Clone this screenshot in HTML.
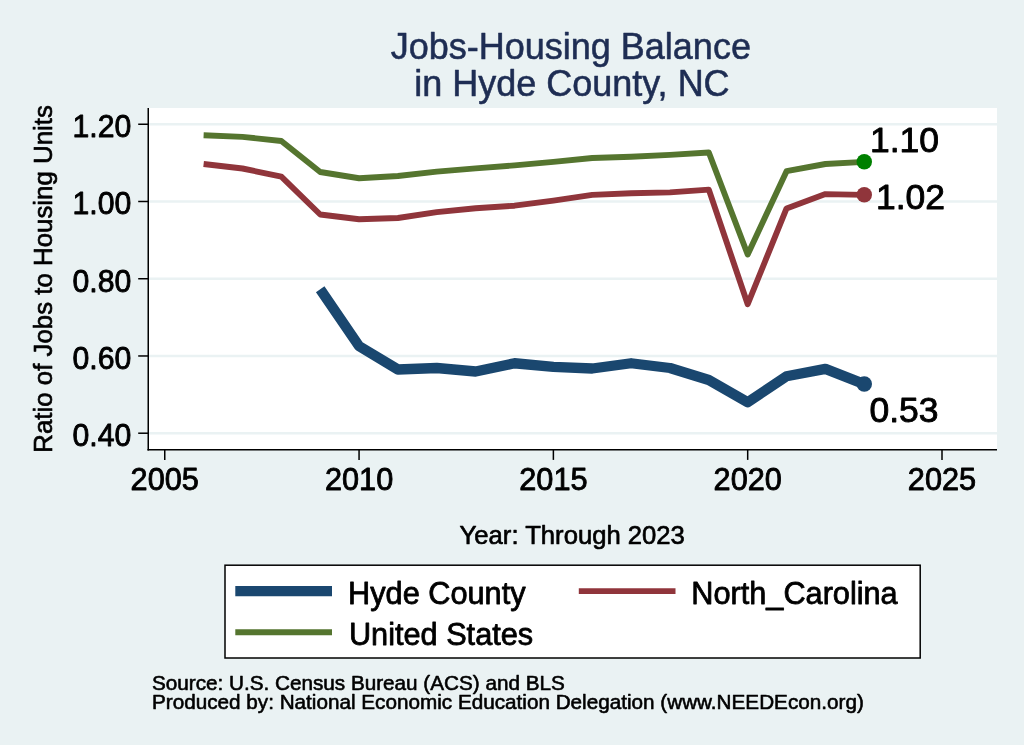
<!DOCTYPE html>
<html><head><meta charset="utf-8"><title>Jobs-Housing Balance in Hyde County, NC</title>
<style>
html,body{margin:0;padding:0;background:#EAF2F3;}
body{width:1024px;height:745px;overflow:hidden;}
svg{display:block;will-change:transform;}
text{font-family:"Liberation Sans",Arial,Helvetica,sans-serif;fill:#000;stroke:#000;stroke-linejoin:round;}
text.ttl{fill:#1E2D53;stroke:#1E2D53;}
</style></head><body>
<svg width="1024" height="745" viewBox="0 0 1024 745">
<rect x="0" y="0" width="1024" height="745" fill="#EAF2F3"/>
<rect x="148" y="108" width="849" height="341.6" fill="#fff"/>
<!-- grid -->
<line x1="148.8" x2="997" y1="124.25" y2="124.25" stroke="#EAF2F3" stroke-width="2.4"/>
<line x1="148.8" x2="997" y1="201.49" y2="201.49" stroke="#EAF2F3" stroke-width="2.4"/>
<line x1="148.8" x2="997" y1="278.73" y2="278.73" stroke="#EAF2F3" stroke-width="2.4"/>
<line x1="148.8" x2="997" y1="355.97" y2="355.97" stroke="#EAF2F3" stroke-width="2.4"/>
<line x1="148.8" x2="997" y1="433.21" y2="433.21" stroke="#EAF2F3" stroke-width="2.4"/>
<!-- series -->
<polyline points="320.20,289.25 359.06,346.10 397.92,369.50 436.79,368.00 475.65,371.50 514.51,363.25 553.38,366.90 592.24,368.50 631.10,363.25 669.96,368.00 708.82,380.00 747.69,402.20 786.55,376.30 825.41,368.90 864.27,384.10" fill="none" stroke="#1A476F" stroke-width="10.3" stroke-linejoin="round"/>
<polyline points="203.61,164.00 242.47,168.50 281.34,176.70 320.20,214.50 359.06,219.25 397.92,218.00 436.79,212.10 475.65,208.30 514.51,205.70 553.38,200.60 592.24,194.90 631.10,193.30 669.96,192.40 708.82,189.60 747.69,304.25 786.55,208.40 825.41,194.10 864.27,194.85" fill="none" stroke="#90353B" stroke-width="5.9" stroke-linejoin="round"/>
<polyline points="203.61,135.25 242.47,136.90 281.34,141.00 320.20,172.00 359.06,178.25 397.92,176.00 436.79,171.65 475.65,168.40 514.51,165.40 553.38,161.90 592.24,158.05 631.10,156.70 669.96,154.90 708.82,152.50 747.69,254.50 786.55,171.20 825.41,164.00 864.27,161.85" fill="none" stroke="#55752F" stroke-width="5.9" stroke-linejoin="round"/>
<circle cx="864.27" cy="161.85" r="7.75" fill="#008000"/>
<circle cx="864.27" cy="194.85" r="7.75" fill="#90353B"/>
<circle cx="864.27" cy="384.1" r="7.75" fill="#1A476F"/>
<!-- axes -->
<line x1="148.25" x2="148.25" y1="108" y2="450.45" stroke="#000" stroke-width="1.5"/>
<line x1="147.5" x2="997" y1="449.7" y2="449.7" stroke="#000" stroke-width="1.5"/>
<line x1="138.2" x2="148" y1="124.25" y2="124.25" stroke="#000" stroke-width="1.5"/>
<text transform="translate(131.20 137.05) scale(1 1.025)" font-size="30.2" text-anchor="end" stroke-width="0.85">1.20</text>
<line x1="138.2" x2="148" y1="201.49" y2="201.49" stroke="#000" stroke-width="1.5"/>
<text transform="translate(131.20 214.29) scale(1 1.025)" font-size="30.2" text-anchor="end" stroke-width="0.85">1.00</text>
<line x1="138.2" x2="148" y1="278.73" y2="278.73" stroke="#000" stroke-width="1.5"/>
<text transform="translate(131.20 291.53) scale(1 1.025)" font-size="30.2" text-anchor="end" stroke-width="0.85">0.80</text>
<line x1="138.2" x2="148" y1="355.97" y2="355.97" stroke="#000" stroke-width="1.5"/>
<text transform="translate(131.20 368.77) scale(1 1.025)" font-size="30.2" text-anchor="end" stroke-width="0.85">0.60</text>
<line x1="138.2" x2="148" y1="433.21" y2="433.21" stroke="#000" stroke-width="1.5"/>
<text transform="translate(131.20 446.01) scale(1 1.025)" font-size="30.2" text-anchor="end" stroke-width="0.85">0.40</text>
<line x1="164.75" x2="164.75" y1="449.7" y2="459.9" stroke="#000" stroke-width="1.5"/>
<text transform="translate(164.75 490.00) scale(1 1.025)" font-size="30.7" text-anchor="middle" stroke-width="0.85">2005</text>
<line x1="359.06" x2="359.06" y1="449.7" y2="459.9" stroke="#000" stroke-width="1.5"/>
<text transform="translate(359.06 490.00) scale(1 1.025)" font-size="30.7" text-anchor="middle" stroke-width="0.85">2010</text>
<line x1="553.38" x2="553.38" y1="449.7" y2="459.9" stroke="#000" stroke-width="1.5"/>
<text transform="translate(553.38 490.00) scale(1 1.025)" font-size="30.7" text-anchor="middle" stroke-width="0.85">2015</text>
<line x1="747.69" x2="747.69" y1="449.7" y2="459.9" stroke="#000" stroke-width="1.5"/>
<text transform="translate(747.69 490.00) scale(1 1.025)" font-size="30.7" text-anchor="middle" stroke-width="0.85">2020</text>
<line x1="942.00" x2="942.00" y1="449.7" y2="459.9" stroke="#000" stroke-width="1.5"/>
<text transform="translate(942.00 490.00) scale(1 1.025)" font-size="30.7" text-anchor="middle" stroke-width="0.85">2025</text>
<!-- marker labels -->
<text transform="translate(870.00 152.40) scale(1 0.99)" font-size="35.5" stroke-width="0.9">1.10</text>
<text transform="translate(875.90 209.20) scale(1 0.99)" font-size="35.5" stroke-width="0.9">1.02</text>
<text transform="translate(869.50 421.90) scale(1 0.99)" font-size="35.5" stroke-width="0.9">0.53</text>
<!-- titles -->
<text transform="translate(570.80 59.40)" font-size="36" text-anchor="middle" class="ttl" stroke-width="0.55">Jobs-Housing Balance</text>
<text transform="translate(571.90 95.60)" font-size="36" text-anchor="middle" class="ttl" stroke-width="0.55">in Hyde County, NC</text>
<text transform="translate(51.90 278.90) rotate(-90)" font-size="25.85" text-anchor="middle" stroke-width="0.65">Ratio of Jobs to Housing Units</text>
<text transform="translate(572.20 544.30)" font-size="25.65" text-anchor="middle" stroke-width="0.65">Year: Through 2023</text>
<!-- legend -->
<rect x="225" y="565.2" width="695.2" height="92.8" fill="#fff" stroke="#000" stroke-width="1.5"/>
<line x1="235.3" x2="332" y1="591.2" y2="591.2" stroke="#1A476F" stroke-width="10.3"/>
<line x1="235.3" x2="332" y1="632.3" y2="632.3" stroke="#55752F" stroke-width="5.9"/>
<line x1="578.8" x2="675.5" y1="591.1" y2="591.1" stroke="#90353B" stroke-width="5.9"/>
<text transform="translate(348.10 604.00)" font-size="30.7" stroke-width="0.78">Hyde County</text>
<text transform="translate(691.30 604.00)" font-size="30.7" stroke-width="0.78">North_Carolina</text>
<text transform="translate(348.90 644.80)" font-size="30.7" stroke-width="0.78">United States</text>
<!-- notes -->
<text transform="translate(152.00 689.50)" font-size="20.7" stroke-width="0.6">Source: U.S. Census Bureau (ACS) and BLS</text>
<text transform="translate(152.00 709.30)" font-size="20.7" stroke-width="0.6">Produced by: National Economic Education Delegation (www.NEEDEcon.org)</text>
</svg>
</body></html>
